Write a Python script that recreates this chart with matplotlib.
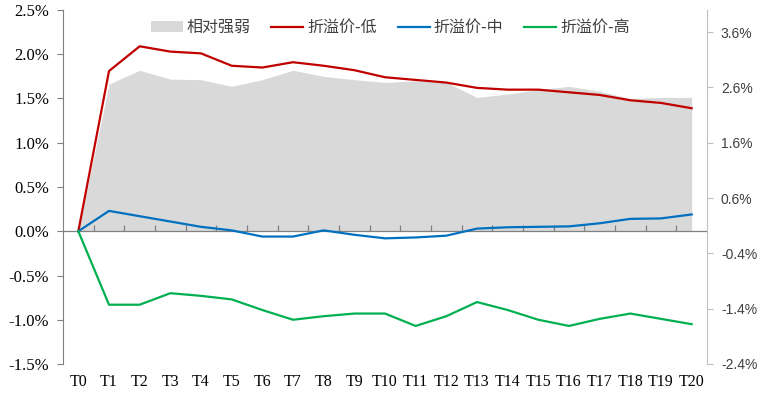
import matplotlib

matplotlib.use('Agg')  # no display here
import matplotlib.pyplot as plt
import matplotlib.ticker as mticker
import numpy as np

plt.rcParams['font.family'] = ['Liberation Serif', 'Noto Sans CJK SC']

# ---- data ----
categories = ['T%d' % i for i in range(21)]

# left axis (%)
low_premium = [0.0, 1.81, 2.09, 2.03, 2.01, 1.87, 1.85, 1.91, 1.87, 1.82, 1.74,
               1.71, 1.68, 1.62, 1.60, 1.60, 1.57, 1.54, 1.48, 1.45, 1.39]
mid_premium = [0.0, 0.23, 0.17, 0.11, 0.05, 0.01, -0.06, -0.06, 0.01, -0.04, -0.08,
               -0.07, -0.05, 0.03, 0.045, 0.05, 0.055, 0.09, 0.14, 0.145, 0.19]
high_premium = [0.0, -0.83, -0.83, -0.70, -0.73, -0.77, -0.89, -1.00, -0.96, -0.93, -0.93,
                -1.07, -0.96, -0.80, -0.89, -1.00, -1.07, -0.99, -0.93, -0.99, -1.05]

# right axis (%)
relative_strength = [0.0, 2.66, 2.91, 2.75, 2.74, 2.62, 2.74, 2.91, 2.80, 2.74, 2.69,
                     2.72, 2.69, 2.42, 2.48, 2.56, 2.62, 2.53, 2.40, 2.42, 2.42]

left_ticks = [-1.5, -1.0, -0.5, 0.0, 0.5, 1.0, 1.5, 2.0, 2.5]
right_ticks = [-2.4, -1.4, -0.4, 0.6, 1.6, 2.6, 3.6]

labels = ['相对强弱', '折溢价-低', '折溢价-中', '折溢价-高']

# ---- plot ----
fig = plt.figure(figsize=(7.65, 3.93), dpi=100)
ax = fig.add_axes([63 / 765, 1 - 364 / 393, (707 - 63) / 765, (364 - 10) / 393])
ax2 = ax.twinx()
ax.set_zorder(ax2.get_zorder() + 1)
ax.patch.set_visible(False)

x = np.arange(len(categories))
area = ax2.fill_between(x, relative_strength, 0, color='#D9D9D9', lw=0, label=labels[0])
l1, = ax.plot(x, low_premium, color='#C00000', lw=1.6, label=labels[1])
l2, = ax.plot(x, mid_premium, color='#0070C0', lw=1.6, label=labels[2])
l3, = ax.plot(x, high_premium, color='#00B050', lw=1.6, label=labels[3])

ax.set_xlim(-0.5, len(categories) - 0.5)
ax.set_ylim(left_ticks[0], left_ticks[-1])
ax2.set_ylim(-2.4, 4.0)

# zero line with small upward ticks between categories
ax.axhline(0, color='#808080', lw=0.9, zorder=1)
bounds = np.arange(len(categories) - 1) + 0.5
ax.plot(bounds, np.zeros_like(bounds), ls='none', marker=2, ms=4,
        mew=0.9, color='#808080', zorder=1)

ax.set_xticks(x)
ax.set_xticklabels(categories, fontsize=11.5)
ax.tick_params(axis='x', length=0, pad=7)

ax.set_yticks(left_ticks)
ax.yaxis.set_major_formatter(mticker.FuncFormatter(lambda v, p: '%.1f%%' % v))
ax.tick_params(axis='y', labelsize=12, length=4, color='#808080', pad=6)

ax2.set_yticks(right_ticks)
ax2.yaxis.set_major_formatter(mticker.FuncFormatter(lambda v, p: '%.1f%%' % v))
ax2.tick_params(axis='y', length=4, color='#BFBFBF', pad=6)
for t in ax2.get_yticklabels():
    t.set_fontfamily('Liberation Sans')
    t.set_fontsize(10)
    t.set_color('#404040')

for s in ['top', 'bottom', 'right']:
    ax.spines[s].set_visible(False)
ax.spines['left'].set_color('#808080')
for s in ['top', 'bottom', 'left']:
    ax2.spines[s].set_visible(False)
ax2.spines['right'].set_color('#BFBFBF')

leg = ax.legend([area, l1, l2, l3], labels, loc='center', bbox_to_anchor=(0.508, 0.95),
                ncol=4, frameon=False, handlelength=2.0, handletextpad=0.25,
                columnspacing=1.3, prop={'family': 'Noto Sans CJK SC', 'size': 11.5})
for t in leg.get_texts():
    t.set_color('#404040')

fig.savefig('out.png', dpi=100)
